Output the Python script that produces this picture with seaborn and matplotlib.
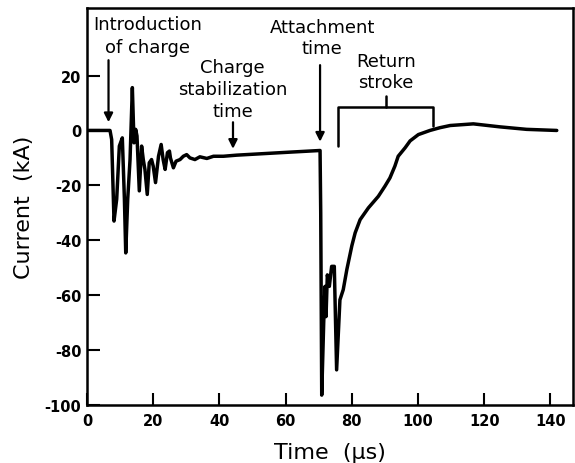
import matplotlib
matplotlib.use("Agg")
import matplotlib.pyplot as plt
import seaborn as sns
import pandas as pd

tiempo = [0, 6.95, 7.45, 8.16, 8.97, 9.77, 10.67, 11.3, 11.7, 12.3, 13.0, 13.7,
          14.2, 14.7, 15.1, 15.8, 16.5, 17.0, 17.5, 18.2, 18.8, 19.5, 20.0, 20.7,
          21.6, 22.4, 23.0, 23.6, 24.3, 24.9, 25.2, 26.1, 26.9, 28.1, 29.1, 30.1,
          31.1, 32.6, 34.1, 36.2, 38.2, 41.2, 45.2, 61.3, 70.4,
          70.6, 70.9, 71.5, 71.9, 72.2, 72.6, 73.2, 73.9, 74.7, 75.4, 76.4, 77.4,
          78.5, 80.0, 81.0, 82.5, 85.0, 88.0, 90.0, 91.5, 93.0, 94.0, 96.1, 97.6,
          100.1, 103.6, 106.6, 109.7, 116.7, 124.8, 132.8, 141.9]
corriente = [0, 0, -3.3, -33, -25, -5.7, -2.7, -25, -44.6, -25, -10.6, 15.6,
             -4.5, 0.4, -2, -22, -5.7, -10.6, -14.2, -23.3, -11.8, -10.6, -13, -19,
             -9.4, -5.1, -10.6, -14.2, -8.1, -7.5, -10, -13.6, -11.2, -10.6, -9.4, -8.8,
             -10, -10.6, -9.6, -10.2, -9.4, -9.4, -9.0, -7.9, -7.3,
             -30, -96.4, -70, -56.8, -67.8, -52.6, -56.8, -49.5, -49.5, -87.2, -61.7, -58,
             -50.6, -42, -37.3, -32.5, -28.2, -24, -20.3, -17.3, -13, -9.4, -6.3, -3.8,
             -1.5, 0, 1.0, 1.8, 2.4, 1.3, 0.4, 0]

xticks = [0, 20, 40, 60, 80, 100, 120, 140]
yticks = [-100, -80, -60, -40, -20, 0, 20]

# llave de "Return stroke"
llave_x = [75.8, 75.8, 104.5, 104.5]
llave_y = [-5.5, 8.4, 8.4, 1.8]

df = pd.DataFrame({"t": tiempo, "i": corriente})

sns.set_style("ticks")
plt.rcParams["font.family"] = ["DejaVu Sans"]
plt.rcParams["axes.unicode_minus"] = False
plt.rcParams["text.color"] = "black"
plt.rcParams["axes.labelcolor"] = "black"
plt.rcParams["xtick.color"] = "black"
plt.rcParams["ytick.color"] = "black"
plt.rcParams["axes.edgecolor"] = "black"

fig = plt.figure(figsize=(5.75, 4.64), dpi=100)
ax = fig.add_axes([0.1513, 0.125, 0.8452, 0.8556])

sns.lineplot(data=df, x="t", y="i", sort=False, estimator=None,
             color="black", linewidth=2.5, ax=ax)

ax.set_xlim(0, 146.8)
ax.set_ylim(-100, 44.6)
ax.set_xticks(xticks)
ax.set_yticks(yticks)
ax.tick_params(direction="in", length=9, width=1.5, labelsize=10.5)
ax.tick_params(axis="x", pad=6)
ax.tick_params(axis="y", pad=4)
for lab in ax.get_xticklabels() + ax.get_yticklabels():
    lab.set_fontweight("bold")
for s in ax.spines.values():
    s.set_linewidth(1.8)
    s.set_visible(True)

ax.set_xlabel("Time  (\u00b5s)", fontsize=16, labelpad=10)
ax.set_ylabel("Current  (kA)", fontsize=16, labelpad=8)

flecha = dict(arrowstyle="-|>", color="black", lw=1.6, mutation_scale=13)
fs = 13

ax.text(18.4, 38.7, "Introduction", ha="center", va="center", fontsize=fs)
ax.text(18.4, 30.3, "of charge", ha="center", va="center", fontsize=fs)
ax.annotate("", xy=(6.5, 2.0), xytext=(6.5, 26.6), arrowprops=flecha)

ax.text(44, 23, "Charge", ha="center", va="center", fontsize=fs)
ax.text(44, 15, "stabilization", ha="center", va="center", fontsize=fs)
ax.text(44, 7, "time", ha="center", va="center", fontsize=fs)
ax.annotate("", xy=(44.1, -7.7), xytext=(44.1, 4), arrowprops=flecha)

ax.text(71, 37.6, "Attachment", ha="center", va="center", fontsize=fs)
ax.text(71, 29.9, "time", ha="center", va="center", fontsize=fs)
ax.annotate("", xy=(70.4, -5.1), xytext=(70.4, 24.8), arrowprops=flecha)

ax.text(90.3, 25.2, "Return", ha="center", va="center", fontsize=fs)
ax.text(90.3, 17.5, "stroke", ha="center", va="center", fontsize=fs)
ax.plot(llave_x, llave_y, color="black", lw=1.8)
ax.plot([90.3, 90.3], [8.4, 12.4], color="black", lw=1.8)

fig.savefig("out.png", dpi=100)
